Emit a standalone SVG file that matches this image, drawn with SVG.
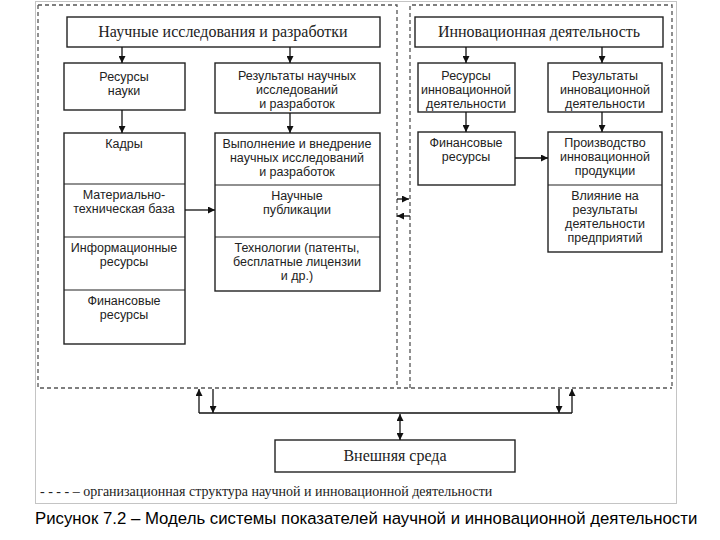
<svg xmlns="http://www.w3.org/2000/svg" width="720" height="540" viewBox="0 0 720 540">
<defs>
<marker id="ah" viewBox="0 0 10 10" refX="10" refY="5" markerWidth="7" markerHeight="7" markerUnits="userSpaceOnUse" orient="auto-start-reverse"><path d="M0,0 L10,5 L0,10 z" fill="#111"/></marker>
<style>
.box{fill:#fff;stroke:#222;stroke-width:1.4}
.div{stroke:#222;stroke-width:1.2}
.dash{fill:none;stroke:#555;stroke-width:1.3;stroke-dasharray:4,3}
.frame{fill:none;stroke:#c4c4c4;stroke-width:1}
.ser{font-family:"Liberation Serif",serif;fill:#222;text-anchor:middle}
.san{font-family:"Liberation Sans",Arial,sans-serif;font-size:12.5px;fill:#222;text-anchor:middle}
.con{stroke:#111;stroke-width:1.3;fill:none}
</style>
</defs>
<rect width="720" height="540" fill="#fff"/>
<rect class="frame" x="35.5" y="1.5" width="641" height="502"/>
<g id="org-structure">
<path class="dash" d="M38,5 H397 V388 M38,5 V388 H672 M410,388 V5 H672 V388"/>
</g>
<g id="n-science">
<rect class="box" x="67" y="17" width="313" height="30"/>
<text class="ser" x="223" y="37" font-size="16">Научные исследования и разработки</text>
</g>
<g id="n-res-science">
<rect class="box" x="64" y="63" width="121" height="47"/>
<text class="san" x="124" y="81">Ресурсы</text>
<text class="san" x="124" y="95">науки</text>
</g>
<g id="n-results-science">
<rect class="box" x="215" y="63" width="165" height="50"/>
<text class="san" x="297" y="80">Результаты научных</text>
<text class="san" x="297" y="94">исследований</text>
<text class="san" x="297" y="108">и разработок</text>
</g>
<g id="n-left-stack">
<rect class="box" x="64" y="133" width="121" height="211"/>
<line class="div" x1="64" y1="184" x2="185" y2="184"/>
<line class="div" x1="64" y1="237" x2="185" y2="237"/>
<line class="div" x1="64" y1="290" x2="185" y2="290"/>
<text class="san" x="124" y="148">Кадры</text>
<text class="san" x="124" y="199">Материально-</text>
<text class="san" x="124" y="213">техническая база</text>
<text class="san" x="124" y="252">Информационные</text>
<text class="san" x="124" y="266">ресурсы</text>
<text class="san" x="124" y="305">Финансовые</text>
<text class="san" x="124" y="319">ресурсы</text>
</g>
<g id="n-right-stack">
<rect class="box" x="215" y="133" width="165" height="158"/>
<line class="div" x1="215" y1="185" x2="380" y2="185"/>
<line class="div" x1="215" y1="237" x2="380" y2="237"/>
<text class="san" x="297" y="148">Выполнение и внедрение</text>
<text class="san" x="297" y="162">научных исследований</text>
<text class="san" x="297" y="176">и разработок</text>
<text class="san" x="297" y="200">Научные</text>
<text class="san" x="297" y="214">публикации</text>
<text class="san" x="297" y="252">Технологии (патенты,</text>
<text class="san" x="297" y="266">бесплатные лицензии</text>
<text class="san" x="297" y="280">и др.)</text>
</g>
<g id="n-innov">
<rect class="box" x="415" y="17" width="248" height="30"/>
<text class="ser" x="539" y="37" font-size="16">Инновационная деятельность</text>
</g>
<g id="n-res-innov">
<rect class="box" x="418" y="63" width="97" height="49"/>
<text class="san" x="466" y="80">Ресурсы</text>
<text class="san" x="466" y="94">инновационной</text>
<text class="san" x="466" y="108">деятельности</text>
</g>
<g id="n-results-innov">
<rect class="box" x="548" y="63" width="114" height="49"/>
<text class="san" x="605" y="80">Результаты</text>
<text class="san" x="605" y="94">инновационной</text>
<text class="san" x="605" y="108">деятельности</text>
</g>
<g id="n-fin-innov">
<rect class="box" x="418" y="132" width="97" height="53"/>
<text class="san" x="466" y="147">Финансовые</text>
<text class="san" x="466" y="161">ресурсы</text>
</g>
<g id="n-prod-stack">
<rect class="box" x="548" y="132" width="114" height="120"/>
<line class="div" x1="548" y1="185" x2="662" y2="185"/>
<text class="san" x="605" y="147">Производство</text>
<text class="san" x="605" y="161">инновационной</text>
<text class="san" x="605" y="175">продукции</text>
<text class="san" x="605" y="200">Влияние на</text>
<text class="san" x="605" y="214">результаты</text>
<text class="san" x="605" y="228">деятельности</text>
<text class="san" x="605" y="242">предприятий</text>
</g>
<g id="n-env">
<rect class="box" x="275" y="440" width="240" height="32"/>
<text class="ser" x="395" y="461" font-size="16">Внешняя среда</text>
</g>
<g id="connectors">
<line class="con" x1="122" y1="47" x2="122" y2="63" marker-end="url(#ah)"/>
<line class="con" x1="290" y1="47" x2="290" y2="63" marker-end="url(#ah)"/>
<line class="con" x1="122" y1="110" x2="122" y2="133" marker-end="url(#ah)"/>
<line class="con" x1="290" y1="113" x2="290" y2="133" marker-end="url(#ah)"/>
<line class="con" x1="185" y1="210" x2="215" y2="210" marker-end="url(#ah)"/>
<line class="con" x1="466" y1="47" x2="466" y2="63" marker-end="url(#ah)"/>
<line class="con" x1="602" y1="47" x2="602" y2="63" marker-end="url(#ah)"/>
<line class="con" x1="466" y1="112" x2="466" y2="132" marker-end="url(#ah)"/>
<line class="con" x1="602" y1="112" x2="602" y2="132" marker-end="url(#ah)"/>
<line class="con" x1="515" y1="158" x2="548" y2="158" marker-end="url(#ah)"/>
<line class="con" x1="397" y1="199" x2="409" y2="199" marker-end="url(#ah)"/>
<line class="con" x1="410" y1="216" x2="397" y2="216" marker-end="url(#ah)"/>
<path class="con" d="M199,413 V389" marker-end="url(#ah)"/>
<path class="con" d="M213,389 V413" marker-end="url(#ah)"/>
<path class="con" d="M199,413 H572"/>
<path class="con" d="M559,389 V413" marker-end="url(#ah)"/>
<path class="con" d="M572,413 V389" marker-end="url(#ah)"/>
<line class="con" x1="400" y1="414" x2="400" y2="440" marker-start="url(#ah)" marker-end="url(#ah)"/>
</g>
<g id="legend">
<text x="40" y="496" font-family="'Liberation Serif',serif" font-size="14" fill="#222">- - - - – организационная структура научной и инновационной деятельности</text>
</g>
<text x="35" y="524" font-family="'Liberation Sans',Arial,sans-serif" font-size="16.8" fill="#000">Рисунок 7.2 – Модель системы показателей научной и инновационной деятельности</text>
</svg>
